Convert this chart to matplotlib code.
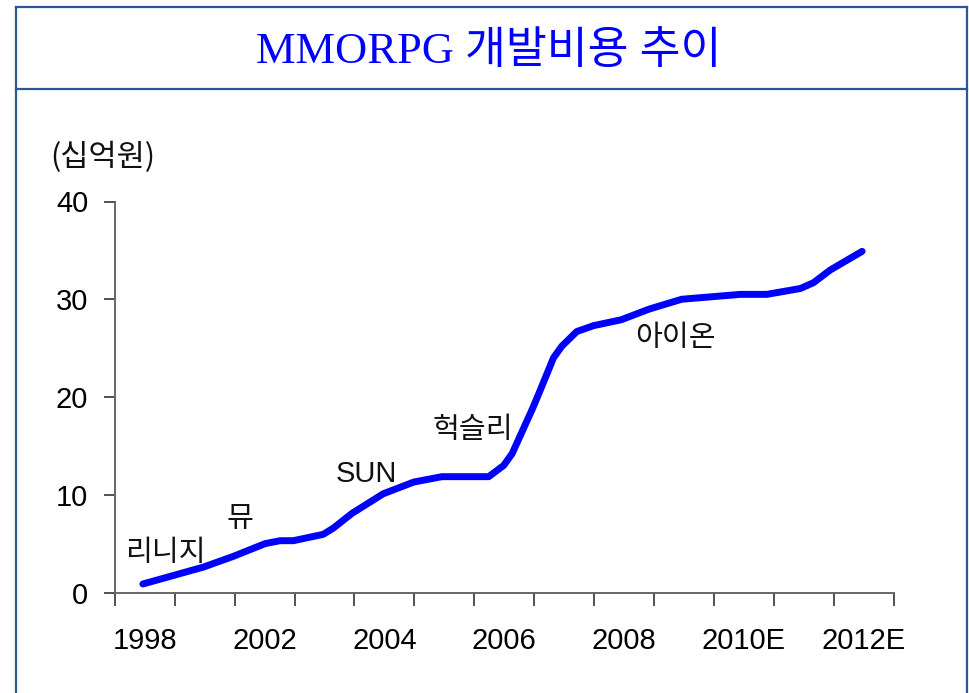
import matplotlib
matplotlib.use("Agg")
import matplotlib.pyplot as plt
from matplotlib.lines import Line2D

# ---- data ----
# x position in category-interval units (13 intervals on the axis)
period = [0.47, 1.48, 1.98, 2.51, 2.76, 2.98, 3.48, 3.65, 3.96, 4.48, 4.99,
          5.46, 6.24, 6.49, 6.63, 6.97, 7.10, 7.32, 7.46, 7.71, 7.99, 8.45,
          8.92, 9.46, 10.44, 10.88, 11.44, 11.66, 11.94, 12.47]
cost = [0.87, 2.6, 3.7, 5.0, 5.3, 5.3, 5.95, 6.6, 8.1, 10.1, 11.3,
        11.85, 11.85, 13.0, 14.2, 18.8, 20.7, 24.0, 25.2, 26.7, 27.3, 27.9,
        29.0, 30.0, 30.5, 30.5, 31.1, 31.7, 33.0, 34.9]
year_labels = ['1998', '2002', '2004', '2006', '2008', '2010E', '2012E']
year_label_pos = [0.5, 2.5, 4.5, 6.5, 8.5, 10.5, 12.5]
y_ticks = [0, 10, 20, 30, 40]
games = ['리니지', '뮤', 'SUN', '헉슬리', '아이온']
game_x = [0.84, 2.09, 4.2, 5.97, 9.35]
game_y = [4.04, 7.52, 12.12, 16.6, 26.04]

title = 'MMORPG 개발비용 추이'
unit = '(십억원)'

KR = ['Noto Sans CJK KR', 'DejaVu Sans']
LAT = ['Liberation Sans', 'Noto Sans CJK KR']

W, H = 969, 693
fig = plt.figure(figsize=(W / 100, H / 100), dpi=100)
fig.patch.set_facecolor('white')

# frame lines
bc = '#2B5797'
def fx(px): return px / W
def fy(py): return 1 - py / H
fig.add_artist(Line2D([fx(15.7), fx(966.7)], [fy(6.7), fy(6.7)], color=bc, lw=1.6))
fig.add_artist(Line2D([fx(15.7), fx(966.7)], [fy(89), fy(89)], color=bc, lw=1.6))
fig.add_artist(Line2D([fx(15.7), fx(15.7)], [fy(6.7), 0], color=bc, lw=1.6))
fig.add_artist(Line2D([fx(966.7), fx(966.7)], [fy(6.7), 0], color=bc, lw=1.6))

fig.text(fx(488.5), fy(52), title, ha='center', va='center', color='#0000FF',
         fontsize=32, family=['Liberation Serif', 'Noto Sans CJK KR'])

ax = fig.add_axes([114.7 / W, 1 - 592.5 / H, (893.9 - 114.7) / W, (592.5 - 201.5) / H])
ax.plot(period, cost, color='#0000FF', lw=5.0, solid_capstyle='round',
        solid_joinstyle='round')

ax.set_xlim(0, 13)
ax.set_ylim(0, 40)
ax.set_xticks(range(0, 14))
ax.set_xticklabels([])
ax.set_xticks(year_label_pos, minor=True)
ax.set_xticklabels(year_labels, minor=True, family=LAT, fontsize=21)
ax.tick_params(axis='x', which='minor', length=0, pad=25)
ax.tick_params(axis='x', which='major', length=9, width=1.2, color='#333333')
ax.set_yticks(y_ticks)
ax.set_yticklabels([str(v) for v in y_ticks], family=LAT, fontsize=21)
ax.tick_params(axis='y', length=8, width=1.2, color='#333333', pad=11)

for s in ['top', 'right']:
    ax.spines[s].set_visible(False)
for s in ['left', 'bottom']:
    ax.spines[s].set_color('#666666')
    ax.spines[s].set_linewidth(1.4)

for g, x, y in zip(games, game_x, game_y):
    ax.text(x, y, g, ha='center', va='center', fontsize=21,
            family=KR if g != 'SUN' else LAT, color='#111111')

fig.text(fx(50), fy(157), unit, ha='left', va='center', fontsize=22,
         family=KR, color='#111111')

fig.savefig('out.png', dpi=100)
